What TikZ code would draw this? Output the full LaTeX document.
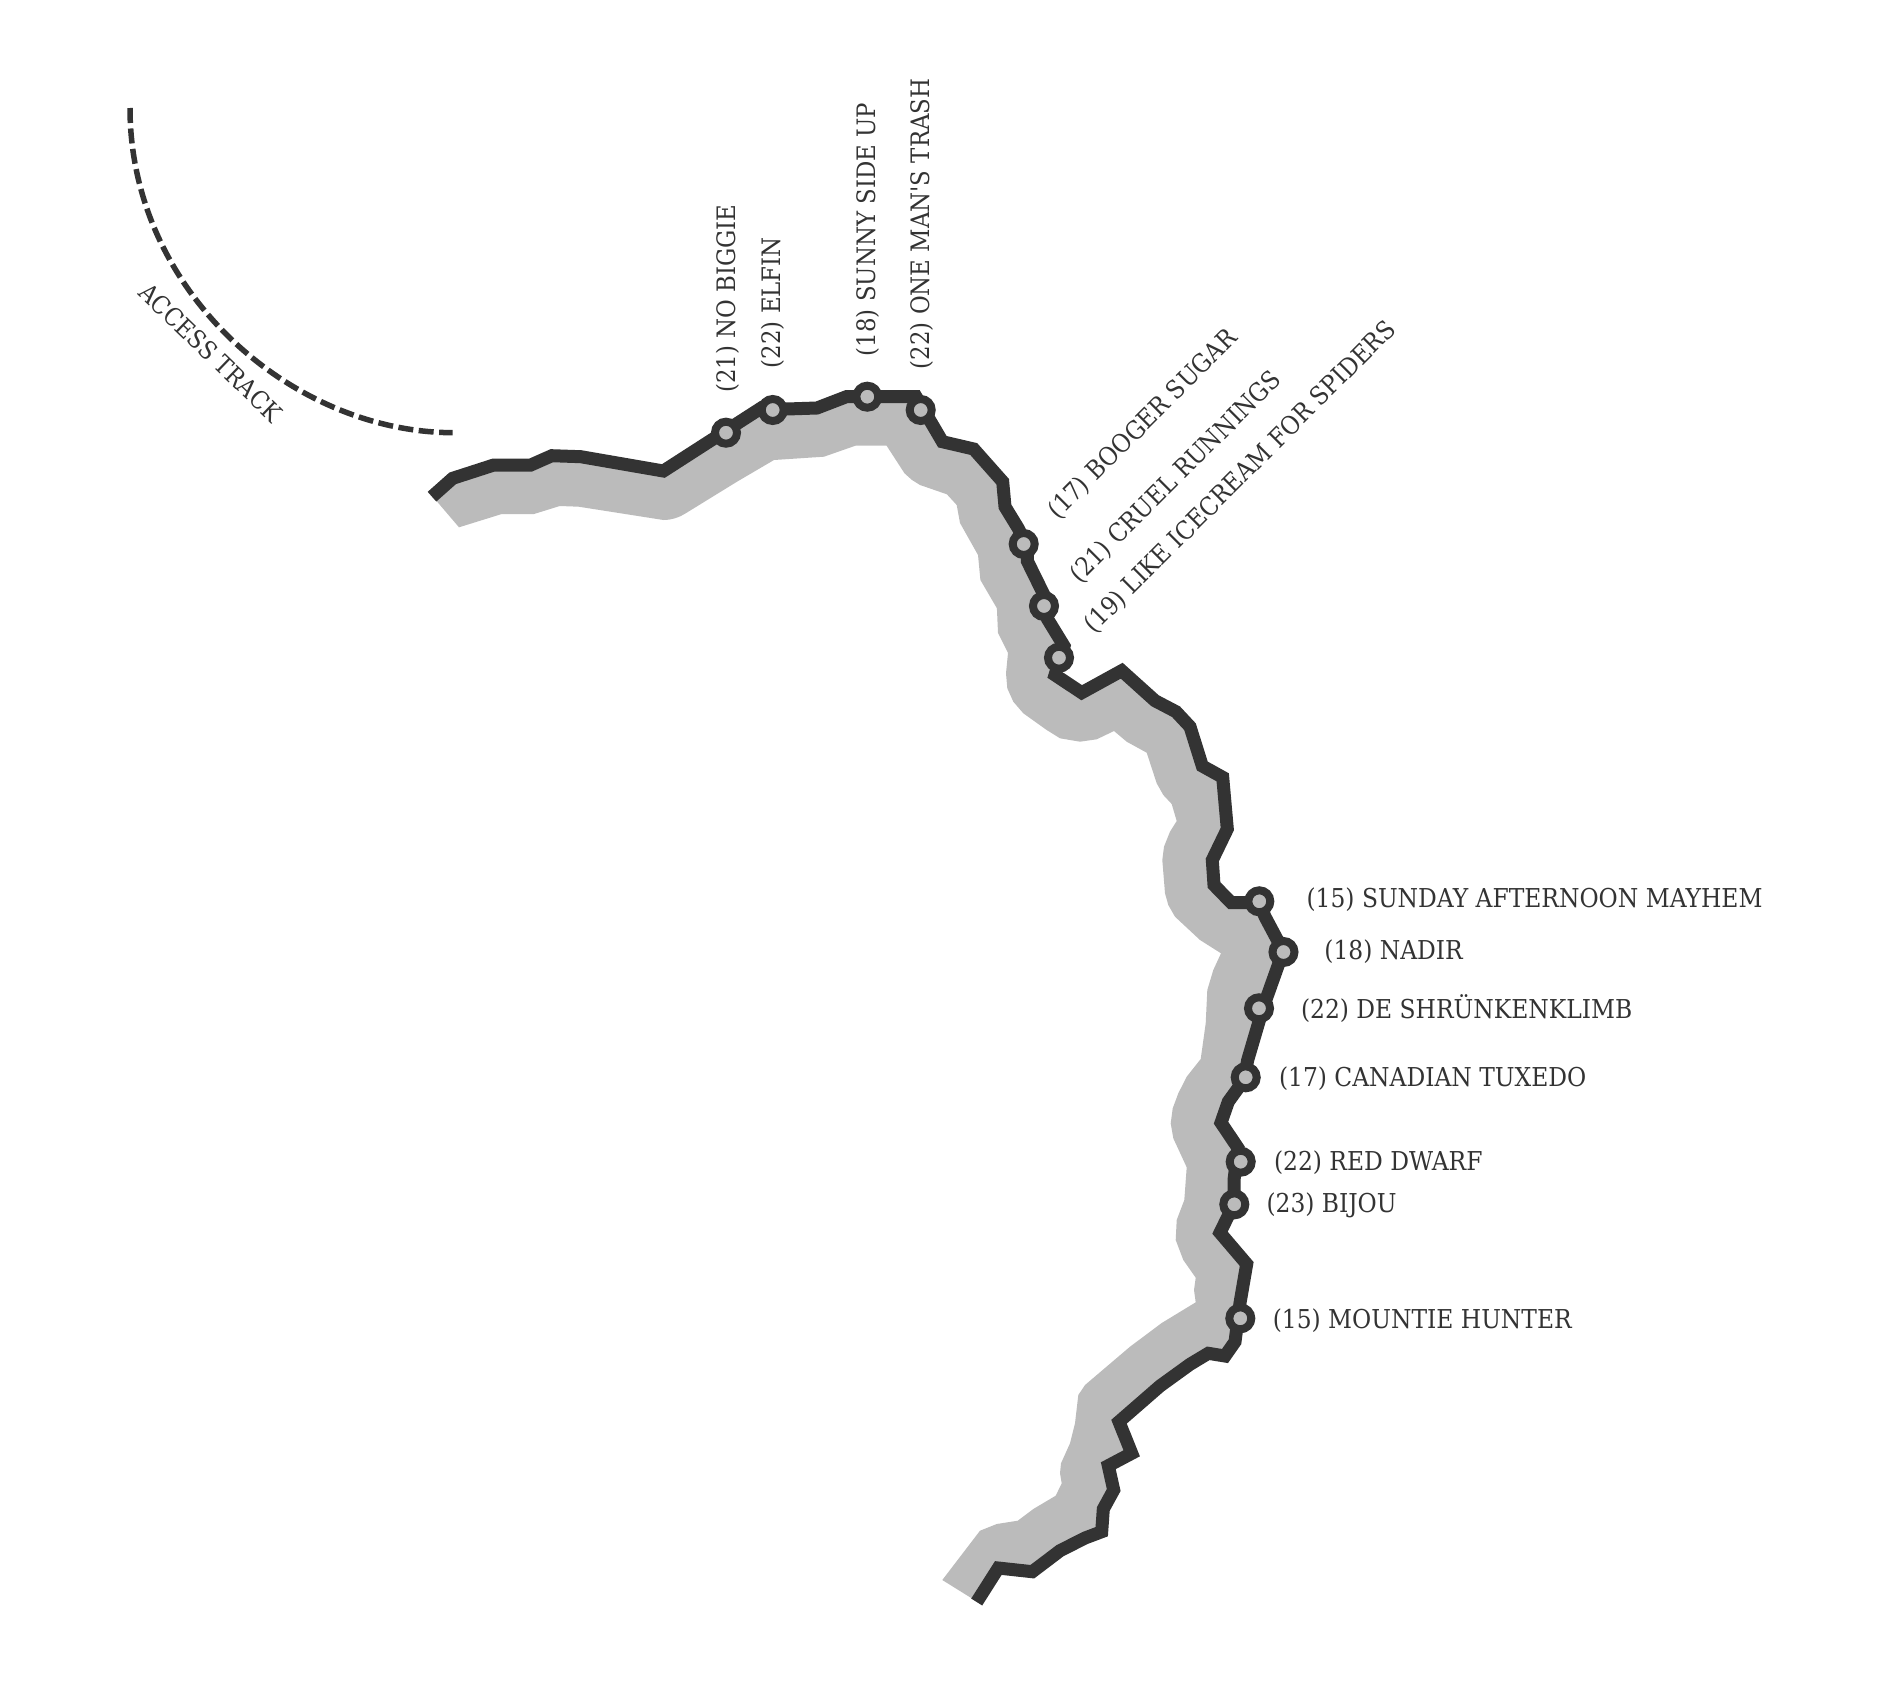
\documentclass[tikz,border=0pt]{standalone}
\usepackage{fontspec}
\newfontfamily\lblfont{DejaVu Serif Condensed}
\definecolor{ink}{HTML}{333333}
\definecolor{band}{HTML}{BBBBBB}
\tikzset{
  route/.style={draw=ink,line width=13pt,line join=miter},
  stopmark/.style={circle,draw=ink,fill=band,line width=8pt,minimum size=22pt,inner sep=0pt,outer sep=0pt},
  lbl/.style={text=ink,inner sep=0pt,outer sep=0pt,anchor=base west,font=\lblfont\fontsize{26}{26}\selectfont},
  lbltilt/.style={lbl,font=\lblfont\fontsize{25.4}{26}\selectfont},
  track/.style={draw=ink,line width=5.5pt,dash pattern=on 15pt off 5.5pt}
}
\begin{document}
\begin{tikzpicture}[x=1pt,y=-1pt]
\useasboundingbox (0,0) rectangle (1890,1681);
\coordinate (s1) at (726,432.7);
\coordinate (s2) at (772.7,410);
\coordinate (s3) at (867.3,396.7);
\coordinate (s4) at (920.7,410);
\coordinate (s5) at (1023.7,544);
\coordinate (s6) at (1044,606);
\coordinate (s7) at (1059,657.7);
\coordinate (s8) at (1259.3,901.3);
\coordinate (s9) at (1283.5,952);
\coordinate (s10) at (1259,1008.3);
\coordinate (s11) at (1245.7,1077.3);
\coordinate (s12) at (1240.7,1161.7);
\coordinate (s13) at (1234.3,1204.3);
\coordinate (s14) at (1240.3,1318.3);
% grey band
\fill[band] (435.7,500) -- (459,527.3) -- (501.8,514) -- (534,514) -- (559.8,506) -- (578.6,506.7) -- (663.4,520)
 .. controls (672,520) and (680,517) .. (685.7,513.3) -- (737,481.7) -- (774,460) -- (824,456.7) -- (855.4,445.7) -- (886.6,445.7)
 -- (904.5,473.3) -- (912,480) -- (920,485) -- (946.9,494.3) -- (956.7,505) -- (960,523) -- (978,555) -- (980.4,580) -- (996.9,608.3) -- (998,633) -- (1008,653)
 -- (1006,673.3) -- (1007.3,688.3) -- (1013.3,701.7) -- (1023.3,713.3) -- (1046.7,730) -- (1060,738.3) -- (1080,741.7) -- (1096.7,739.3) -- (1114,731) -- (1126.7,741.7) -- (1146.7,752.7)
 -- (1156.7,783.3) -- (1163.3,795) -- (1171.7,804) -- (1176.7,821) -- (1170,831.7) -- (1164,846.7) -- (1162.3,860) -- (1165,893.3) -- (1168.3,905) -- (1175,916.7) -- (1200,940)
 -- (1221,953.3) -- (1213.3,970) -- (1207.3,990) -- (1205.7,1023.3) -- (1200.7,1059) -- (1186.7,1076.7) -- (1178.3,1093.3) -- (1172.7,1108.3) -- (1170.7,1123.3)
 -- (1173.3,1138.3) -- (1186.7,1167.3) -- (1184.3,1200) -- (1176.7,1220) -- (1175.7,1240) -- (1183.3,1260) -- (1195.7,1277.7) -- (1194,1290) -- (1195.7,1302.3)
 -- (1161.7,1323) -- (1130,1346.7) -- (1085,1385) -- (1078.3,1395) -- (1075,1423.3) -- (1070,1443.3) -- (1061,1463.3) -- (1060,1473.3) -- (1061.7,1483.3)
 -- (1055.7,1495.7) -- (1033.3,1509) -- (1017.7,1520.7) -- (996.7,1524) -- (980,1530.7) -- (942.3,1580) -- (971.7,1598.3)
 -- (976.7,1602) -- (998.3,1568) -- (1032.3,1571.7) -- (1060,1550.7) -- (1085,1538) -- (1101.7,1531.7) -- (1103.3,1509) -- (1113.7,1490) -- (1108.3,1465.7)
 -- (1131.7,1453.3) -- (1119,1421.7) -- (1160,1386) -- (1190,1364.3) -- (1208.3,1353.3) -- (1225,1356) -- (1235,1341.7) -- (1240,1303) -- (1246.7,1264) -- (1220,1232.7)
 -- (1234,1204) -- (1234,1180) -- (1238,1148) -- (1221,1122.7) -- (1228.3,1101.7) -- (1244,1080) -- (1247.7,1060) -- (1263,1008) -- (1278.3,965) -- (1278.3,941.7) -- (1259,902) -- (1230,903.3) -- (1214,885) -- (1212.3,860) -- (1227.3,829)
 -- (1222.7,777.3) -- (1202.3,766) -- (1190,726.7) -- (1176,711.7) -- (1155,700.7) -- (1121.7,670.7) -- (1081.7,692.7) -- (1055,675) -- (1062,650) -- (1047.5,619) -- (1044,606) -- (1027,561)
 -- (1018,528) -- (1005,506.7) -- (1002.7,481.7) -- (973.7,449) -- (942.4,441.7) -- (916,396.7) -- (846.4,396.7) -- (817,408) -- (786.7,409) -- (762,407.5)
 -- (663.4,471) -- (580.8,456.7) -- (551.8,455.7) -- (530.8,465) -- (493.8,465) -- (452.7,478.3) -- (432,496.7) -- cycle;
% route
\coordinate (routestart) at (432,496.7);
\coordinate (routeend) at (976.7,1602);
\draw[route] (routestart) -- (452.7,478.3) -- (493.8,465) -- (530.8,465) -- (551.8,455.7) -- (580.8,456.7) -- (663.4,471) -- (762,407.5) -- (786.7,409) -- (817,408) -- (846.4,396.7) -- (916,396.7)
 -- (942.4,441.7) -- (973.7,449) -- (1002.7,481.7) -- (1005,506.7) -- (1018,528) -- (1027.3,546) -- (1027.3,561) -- (1045,597) -- (1044,606) -- (1047.5,619) -- (1064,646) -- (1058,665) -- (1055,675) -- (1081.7,692.7) -- (1121.7,670.7) -- (1155,700.7) -- (1176,711.7) -- (1190,726.7)
 -- (1202.3,766) -- (1222.7,777.3) -- (1227.3,829) -- (1212.3,860) -- (1214,885) -- (1231,902.5) -- (1259,902.5) -- (1265,916.7) -- (1278.3,941.7) -- (1284,952) -- (1278.3,965) -- (1263,1008) -- (1247.7,1060) -- (1244,1080) -- (1228.3,1101.7) -- (1221,1122.7) -- (1238,1148) -- (1234,1180) -- (1234,1204)
 -- (1220,1232.7) -- (1246.7,1264) -- (1240,1303) -- (1235,1341.7) -- (1225,1356) -- (1208.3,1353.3) -- (1190,1364.3) -- (1160,1386) -- (1119,1421.7) -- (1131.7,1453.3) -- (1108.3,1465.7)
 -- (1113.7,1490) -- (1103.3,1509) -- (1101.7,1531.7) -- (1085,1538) -- (1060,1550.7) -- (1032.3,1571.7) -- (998.3,1568) -- (routeend);
% stops
\foreach \n in {1,...,14} \node[stopmark] (m\n) at (s\n) {};
% access track
\coordinate (trackstart) at (130,108);
\coordinate (trackend) at (452.7,432.7);
\draw[track] (trackstart) .. controls (130,290) and (290,432) .. (trackend);
% labels
\node[lbltilt,rotate=90] (t1) at (735,392.5) {(21) NO BIGGIE};
\node[lbltilt,rotate=90] (t2) at (780.7,368) {(22) ELFIN};
\node[lbltilt,rotate=90] (t3) at (875.5,356) {(18) SUNNY SIDE UP};
\node[lbltilt,rotate=90] (t4) at (929,369) {(22) ONE MAN'S TRASH};
\node[lbltilt,rotate=45] (t5) at (1058,520) {(17) BOOGER SUGAR};
\node[lbltilt,rotate=45] (t6) at (1080,584) {(21) CRUEL RUNNINGS};
\node[lbltilt,rotate=45] (t7) at (1094.5,634) {(19) LIKE ICECREAM FOR SPIDERS};
\node[lbl] (t8) at (1306.6,907.7) {(15) SUNDAY AFTERNOON MAYHEM};
\node[lbl] (t9) at (1324.4,959) {(18) NADIR};
\node[lbl] (t10) at (1301,1018.5) {(22) DE SHRÜNKENKLIMB};
\node[lbl] (t11) at (1279,1086.5) {(17) CANADIAN TUXEDO};
\node[lbl] (t12) at (1274,1170.5) {(22) RED DWARF};
\node[lbl] (t13) at (1266.5,1212.5) {(23) BIJOU};
\node[lbl] (t14) at (1272.8,1328.5) {(15) MOUNTIE HUNTER};
\node[text=ink,inner sep=0pt,outer sep=0pt,anchor=base west,font=\lblfont\fontsize{25}{25}\selectfont,rotate=-44] (t15) at (137.3,294) {ACCESS TRACK};
\end{tikzpicture}
\end{document}
